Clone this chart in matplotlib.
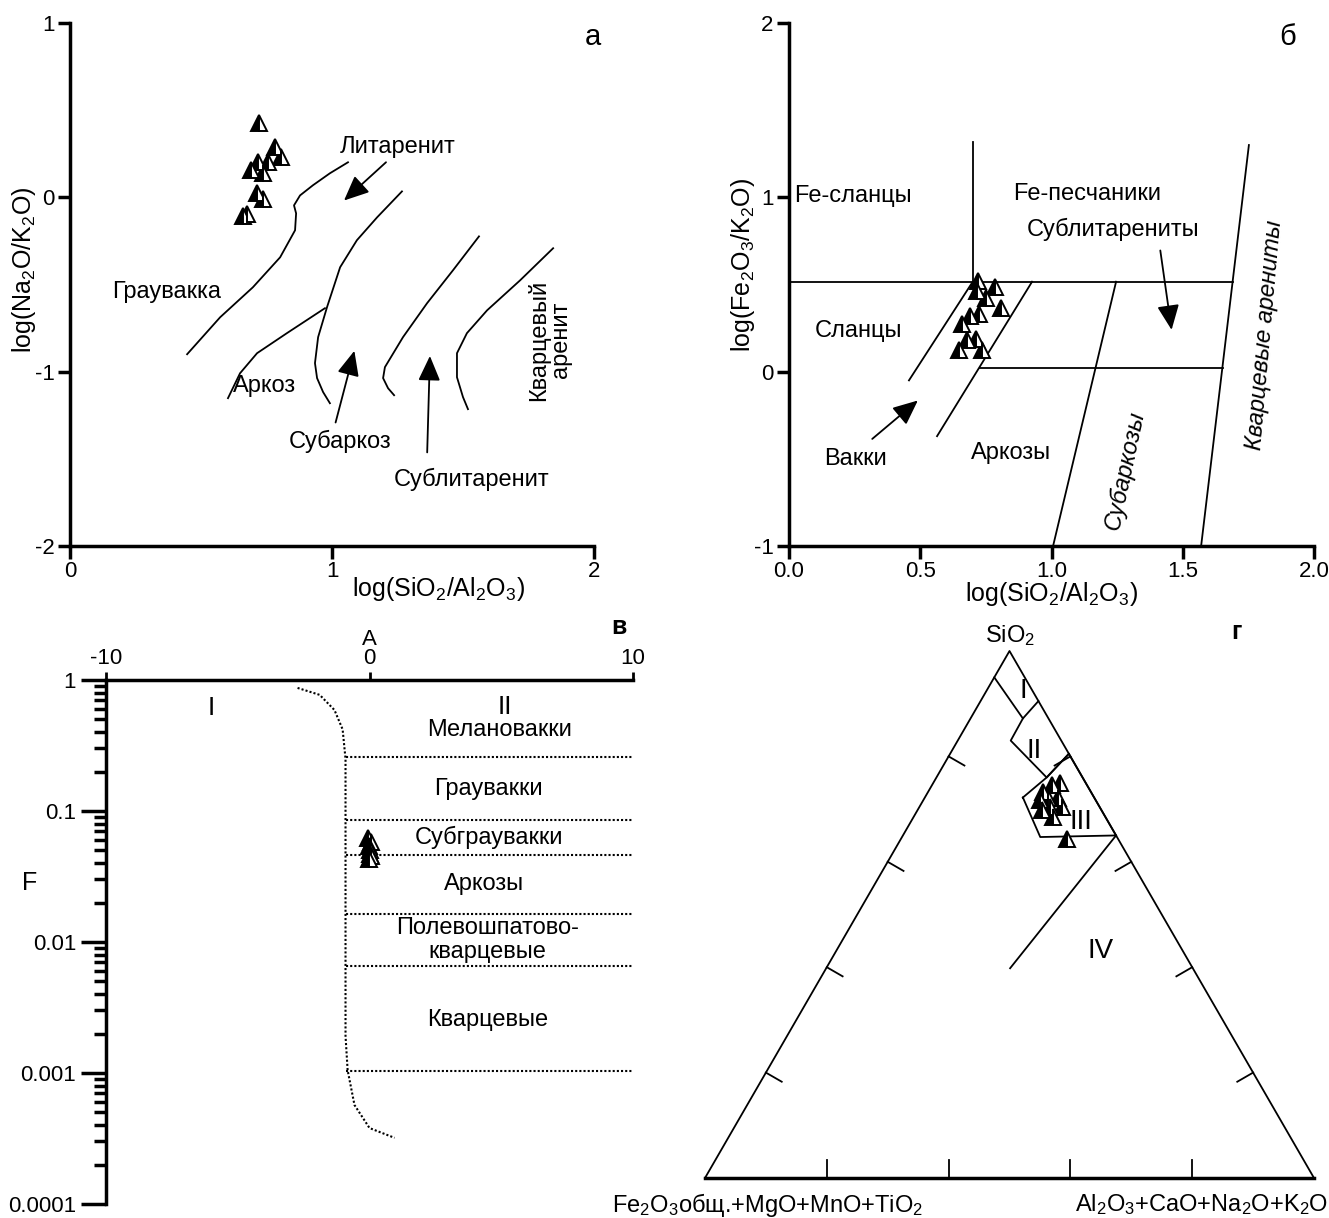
import numpy as np
import matplotlib.pyplot as plt

plt.rcParams['font.family'] = ['Liberation Sans', 'DejaVu Sans']
plt.rcParams['mathtext.fontset'] = 'custom'
plt.rcParams['mathtext.rm'] = 'Liberation Sans'
plt.rcParams['mathtext.default'] = 'regular'
plt.rcParams['axes.unicode_minus'] = False
plt.rcParams['font.size'] = 17

W, H = 1329, 1218
TICK = 16
LAB = 18

# ---- panel a: log(SiO2/Al2O3) vs log(Na2O/K2O)
a_x = [0.721, 0.782, 0.805, 0.756, 0.718, 0.691, 0.737, 0.714, 0.737, 0.660, 0.676]
a_y = [0.424, 0.287, 0.229, 0.200, 0.200, 0.155, 0.138, 0.023, -0.011, -0.109, -0.097]

a_curves = [
    ([0.447, 0.573, 0.698, 0.802, 0.859, 0.863, 0.855, 0.878, 0.927, 0.992, 1.061],
     [-0.900, -0.688, -0.516, -0.344, -0.189, -0.092, -0.046, 0.011, 0.069, 0.138, 0.201]),
    ([0.603, 0.649, 0.714, 0.828, 0.973],
     [-1.152, -1.009, -0.894, -0.779, -0.636]),
    ([1.267, 1.172, 1.095, 1.031, 0.981, 0.947, 0.935, 0.943, 0.966, 0.992],
     [0.034, -0.115, -0.246, -0.401, -0.630, -0.802, -0.951, -1.037, -1.117, -1.181]),
    ([1.561, 1.462, 1.363, 1.271, 1.202, 1.195, 1.214, 1.237],
     [-0.224, -0.418, -0.607, -0.802, -0.974, -1.037, -1.095, -1.135]),
    ([1.844, 1.718, 1.592, 1.515, 1.477, 1.477, 1.500, 1.519],
     [-0.292, -0.476, -0.648, -0.779, -0.894, -1.032, -1.146, -1.215]),
]

# ---- panel б: log(SiO2/Al2O3) vs log(Fe2O3/K2O)
b_x = [0.720, 0.785, 0.716, 0.750, 0.808, 0.690, 0.724, 0.659, 0.678, 0.712, 0.648, 0.735]
b_y = [0.522, 0.488, 0.465, 0.425, 0.367, 0.321, 0.333, 0.275, 0.184, 0.189, 0.126, 0.126]

b_lines = [
    ([0.70, 0.70], [0.52, 1.32]),
    ([0.0, 1.69], [0.516, 0.516]),
    ([0.457, 0.70], [-0.05, 0.516]),
    ([0.564, 0.926], [-0.37, 0.516]),
    ([0.728, 1.653], [0.023, 0.023]),
    ([1.006, 1.246], [-1.0, 0.516]),
    ([1.57, 1.752], [-1.0, 1.30]),
]

# ---- panel в: A vs F (log)
c_x = [-0.05, 0.05, -0.02, 0.03, 0.0, 0.05, -0.03]
c_f = [0.062, 0.058, 0.054, 0.050, 0.047, 0.045, 0.043]
c_bound_x = [-2.73, -1.89, -1.33, -1.02, -0.91, -0.91, -0.83, -0.57, 0.0, 0.95]
c_bound_f = [0.87, 0.77, 0.59, 0.42, 0.25, 0.00192, 0.00105, 0.00057, 0.00038, 0.00032]
c_levels = [0.26, 0.085, 0.046, 0.0165, 0.0066, 0.00103]

# ---- panel г: ternary, (SiO2, Al2O3+...) in %
d_s = [73.2, 74.5, 74.9, 71.7, 72.2, 72.2, 69.8, 70.4, 70.4, 68.5, 64.3]
d_a = [18.9, 19.7, 20.8, 19.2, 20.2, 21.8, 20.5, 21.5, 23.5, 22.9, 27.3]
d_fields = [
    ([95.0, 87.2, 90.5], [0.0, 8.6, 9.5]),
    ([87.2, 83.0, 76.0, 80.5], [8.6, 8.7, 18.1, 19.5]),
    ([72.2, 76.0, 80.5, 65.0, 64.7, 72.2], [16.1, 18.1, 19.5, 35.0, 22.7, 16.1]),
    ([65.0, 39.8], [35.0, 30.2]),
]


def box(l, t, r, b):
    return [l / W, 1 - b / H, (r - l) / W, (b - t) / H]


def tri(s, a):
    s = np.asarray(s, float)
    a = np.asarray(a, float)
    return a + s / 2, s * np.sqrt(3) / 2


mk = dict(marker='^', ms=11, fillstyle='left', mfc='black', mfcalt='white',
          mec='black', mew=1.4, ls='none', zorder=5)
arr = dict(arrowstyle='-|>,head_length=0.9,head_width=0.4', color='black', lw=1.3)


def style(ax):
    for s in ['top', 'right']:
        ax.spines[s].set_visible(False)
    for s in ['left', 'bottom']:
        ax.spines[s].set_linewidth(2.5)
    ax.tick_params(direction='out', length=9, width=2.5, labelsize=TICK, pad=2)


fig = plt.figure(figsize=(W / 100, H / 100), dpi=100)

# a
ax = fig.add_axes(box(70, 23, 594, 546))
style(ax)
ax.set_xlim(0, 2)
ax.set_ylim(-2, 1)
ax.set_xticks([0, 1, 2])
ax.set_yticks([-2, -1, 0, 1])
for cx, cy in a_curves:
    ax.plot(cx, cy, color='black', lw=1.3)
ax.plot(a_x, a_y, **mk)
ax.annotate('', xy=(1.038, -0.029), xytext=(1.214, 0.212), arrowprops=arr)
ax.annotate('', xy=(1.088, -0.865), xytext=(1.011, -1.307), arrowprops=arr)
ax.annotate('', xy=(1.374, -0.894), xytext=(1.363, -1.479), arrowprops=arr)
ax.text(1.252, 0.287, 'Литаренит', ha='center', va='center')
ax.text(0.370, -0.544, 'Граувакка', ha='center', va='center')
ax.text(0.744, -1.083, 'Аркоз', ha='center', va='center')
ax.text(1.031, -1.398, 'Субаркоз', ha='center', va='center')
ax.text(1.534, -1.616, 'Сублитаренит', ha='center', va='center')
ax.text(1.832, -0.819, 'Кварцевый\nаренит', ha='center', va='center',
        rotation=90, linespacing=1.0)
ax.text(0.704, -0.082, r'log(SiO$_2$/Al$_2$O$_3$)', transform=ax.transAxes,
        ha='center', va='center', fontsize=LAB)
ax.text(-0.088, 0.528, r'log(Na$_2$O/K$_2$O)', transform=ax.transAxes,
        ha='center', va='center', rotation=90, fontsize=LAB)
fig.text(593 / W, 1 - 37 / H, 'а', ha='center', va='center', fontsize=21)

# б
ax = fig.add_axes(box(789, 23, 1314, 546))
style(ax)
ax.set_xlim(0, 2)
ax.set_ylim(-1, 2)
ax.set_xticks([0, 0.5, 1.0, 1.5, 2.0])
ax.set_xticklabels(['0.0', '0.5', '1.0', '1.5', '2.0'])
ax.set_yticks([-1, 0, 1, 2])
for lx, ly in b_lines:
    ax.plot(lx, ly, color='black', lw=1.3)
ax.plot(b_x, b_y, **mk)
ax.annotate('', xy=(0.499, -0.155), xytext=(0.309, -0.396), arrowprops=arr)
ax.annotate('', xy=(1.459, 0.224), xytext=(1.413, 0.711), arrowprops=arr)
ax.text(0.244, 1.01, 'Fe-сланцы', ha='center', va='center')
ax.text(1.135, 1.021, 'Fe-песчаники', ha='center', va='center')
ax.text(1.234, 0.815, 'Сублитарениты', ha='center', va='center')
ax.text(0.263, 0.235, 'Сланцы', ha='center', va='center')
ax.text(0.255, -0.499, 'Вакки', ha='center', va='center')
ax.text(0.846, -0.465, 'Аркозы', ha='center', va='center')
ax.text(1.28, -0.568, 'Субаркозы', ha='center', va='center', rotation=78,
        style='italic')
ax.text(1.813, 0.207, 'Кварцевые арениты', ha='center', va='center',
        rotation=85, style='italic')
ax.text(0.5, -0.092, r'log(SiO$_2$/Al$_2$O$_3$)', transform=ax.transAxes,
        ha='center', va='center', fontsize=LAB)
ax.text(-0.088, 0.537, r'log(Fe$_2$O$_3$/K$_2$O)', transform=ax.transAxes,
        ha='center', va='center', rotation=90, fontsize=LAB)
fig.text(1288 / W, 1 - 37 / H, 'б', ha='center', va='center', fontsize=21)

# в
ax = fig.add_axes(box(106, 680, 633, 1204))
ax.set_yscale('log')
ax.set_xlim(-10, 10)
ax.set_ylim(0.0001, 1)
for s in ['bottom', 'right']:
    ax.spines[s].set_visible(False)
for s in ['left', 'top']:
    ax.spines[s].set_linewidth(2.5)
ax.xaxis.tick_top()
ax.xaxis.set_label_position('top')
ax.set_xticks([-10, 0, 10])
ax.set_yticks([1, 0.1, 0.01, 0.001, 0.0001])
ax.set_yticklabels(['1', '0.1', '0.01', '0.001', '0.0001'])
ax.tick_params(axis='y', which='major', direction='out', length=18, width=2.5,
               labelsize=TICK)
ax.tick_params(axis='y', which='minor', direction='out', length=9, width=2.5)
ax.tick_params(axis='x', direction='out', length=6, width=2, labelsize=TICK, pad=2)
ax.set_xlabel('A', labelpad=2, fontsize=TICK)
ax.plot(c_bound_x, c_bound_f, color='black', lw=1.5, ls=(0, (1, 1)))
for lv in c_levels:
    ax.plot([-0.91, 10], [lv, lv], color='black', lw=1.5, ls=(0, (1, 1)))
ax.plot(c_x, c_f, **mk)
ax.text(-6.0, 0.615, 'I', ha='center', va='center', fontsize=19)
ax.text(5.12, 0.625, 'II', ha='center', va='center', fontsize=19)
ax.text(4.93, 0.412, 'Мелановакки', ha='center', va='center')
ax.text(4.52, 0.148, 'Граувакки', ha='center', va='center')
ax.text(4.52, 0.0631, 'Субграувакки', ha='center', va='center')
ax.text(4.33, 0.0279, 'Аркозы', ha='center', va='center')
ax.text(4.48, 0.01035, 'Полевошпатово-\nкварцевые', ha='center', va='center',
        linespacing=1.1)
ax.text(4.48, 0.00254, 'Кварцевые', ha='center', va='center')
fig.text(30 / W, 1 - 883 / H, 'F', ha='center', va='center', fontsize=LAB)
fig.text(619 / W, 1 - 627 / H, 'в', ha='center', va='center', fontsize=18,
         fontweight='bold')

# г
ax = fig.add_axes(box(705, 651, 1314, 1178))
ax.set_xlim(0, 100)
ax.set_ylim(0, 100 * np.sqrt(3) / 2)
ax.axis('off')
tx, ty = tri([0, 100, 0, 0], [0, 0, 100, 0])
ax.plot(tx, ty, color='black', lw=1.3, clip_on=False)
ax.plot([0, 100], [0, 0], color='black', lw=2.5, clip_on=False)
tl = 3.0
for p in [20, 40, 60, 80]:
    # bottom edge
    ax.plot([p, p], [0, tl], color='black', lw=1.3)
    # left edge, perpendicular inward
    lx, ly = tri([p], [0])
    ax.plot([lx[0], lx[0] + tl * np.cos(np.radians(-30))],
            [ly[0], ly[0] + tl * np.sin(np.radians(-30))], color='black', lw=1.3)
    rx, ry = tri([p], [100 - p])
    ax.plot([rx[0], rx[0] - tl * np.cos(np.radians(-30))],
            [ry[0], ry[0] + tl * np.sin(np.radians(-30))], color='black', lw=1.3)
for fs, fa in d_fields:
    fx, fy = tri(fs, fa)
    ax.plot(fx, fy, color='black', lw=1.3)
px, py = tri(d_s, d_a)
ax.plot(px, py, **mk)
for lab, s, a in [('I', 92.5, 6.0), ('II', 81.0, 13.5), ('III', 67.5, 28.0), ('IV', 43.0, 43.5)]:
    lx, ly = tri([s], [a])
    ax.text(lx[0], ly[0], lab, ha='center', va='center', fontsize=20)
ax.text(50, 89.2, r'SiO$_2$', ha='center', va='center', clip_on=False)
ax.text(10.2, -4.4, r'Fe$_2$O$_3$общ.+MgO+MnO+TiO$_2$', ha='center', va='center',
        clip_on=False)
ax.text(81.5, -4.4, r'Al$_2$O$_3$+CaO+Na$_2$O+K$_2$O', ha='center', va='center',
        clip_on=False)
fig.text(1236 / W, 1 - 632 / H, 'г', ha='center', va='center', fontsize=18,
         fontweight='bold')

fig.savefig('out.png', dpi=100)
